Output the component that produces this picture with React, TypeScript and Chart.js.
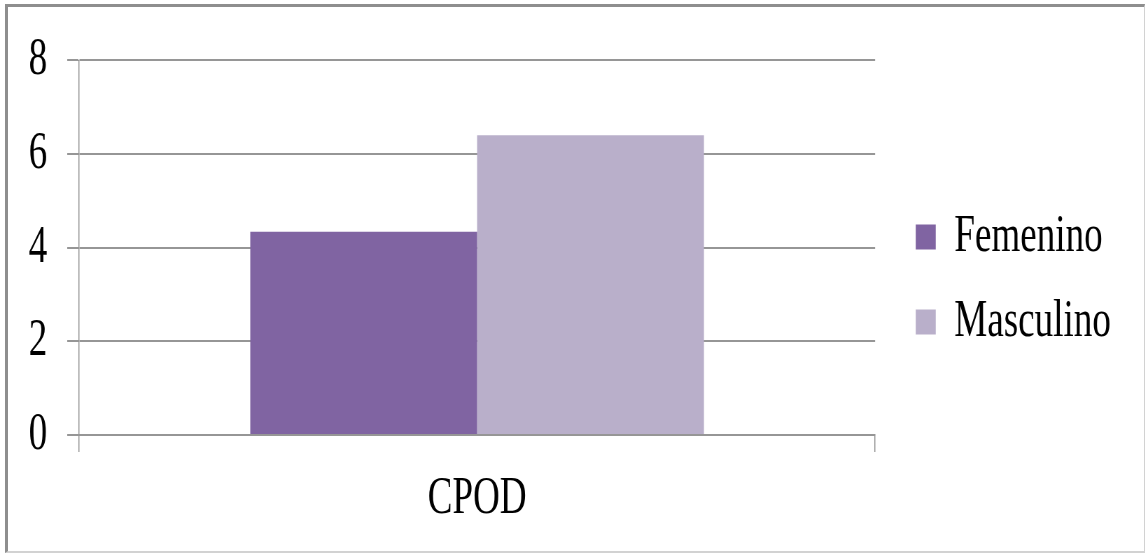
import React, { useEffect, useRef } from 'react';
import { Chart, registerables } from 'chart.js';

Chart.register(...registerables);

// ---- data ----
const categories = ['CPOD'];
const seriesNames = ['Femenino', 'Masculino'];
const femenino = [4.34];
const masculino = [6.4];
const yTicks = [0, 2, 4, 6, 8];
const seriesColors = ['#8064a2', '#b9afca'];

// ---- layout ----
const SX = 0.7; // horizontal squeeze of the narrow serif text
const W = 1636;
const H = 553;
const FONT = { family: "'Liberation Serif', 'Times New Roman', serif", size: 53 };
const GRID = '#969696';

export default function App() {
  const ref = useRef<HTMLCanvasElement>(null);

  useEffect(() => {
    const chart = new Chart(ref.current as HTMLCanvasElement, {
      type: 'bar',
      data: {
        labels: categories,
        datasets: [
          { label: seriesNames[0], data: femenino, backgroundColor: seriesColors[0], yAxisID: 'y' },
          { label: seriesNames[1], data: masculino, backgroundColor: seriesColors[1], yAxisID: 'y' },
        ],
      },
      options: {
        animation: false,
        responsive: true,
        maintainAspectRatio: false,
        devicePixelRatio: 1,
        events: [],
        layout: { padding: { left: 0, top: 6, right: 39, bottom: 0 } },
        datasets: { bar: { categoryPercentage: 0.57, barPercentage: 1 } },
        plugins: {
          tooltip: { enabled: false },
          title: {
            display: true,
            text: ' ',
            font: { size: 1, lineHeight: 1 },
            padding: { top: 0, bottom: 52 },
          },
          legend: {
            position: 'right',
            align: 'center',
            labels: {
              font: FONT,
              color: '#000',
              boxWidth: 28.6,
              boxHeight: 25,
              padding: 32,
            },
          },
        },
        scales: {
          x: {
            type: 'category',
            offset: true,
            grid: {
              display: true,
              offset: true,
              drawOnChartArea: false,
              drawTicks: true,
              tickLength: 17,
              color: GRID,
              lineWidth: 1.5,
            },
            border: { display: true, color: GRID, width: 2 },
            ticks: { font: FONT, color: '#000', padding: 15 },
            afterFit: (s: any) => { s.height = 118; },
          },
          y: {
            type: 'linear',
            position: 'left',
            min: yTicks[0],
            max: yTicks[yTicks.length - 1],
            afterBuildTicks: (s: any) => { s.ticks = yTicks.map((v) => ({ value: v })); },
            grid: { color: GRID, lineWidth: 2, tickLength: 17, drawTicks: true },
            border: { display: true, color: GRID, width: 1.5 },
            ticks: { font: FONT, color: '#000', padding: 28.6 },
            afterFit: (s: any) => { s.width = 113; },
          },
          gap: {
            type: 'linear',
            axis: 'y',
            position: 'right',
            display: false,
            afterFit: (s: any) => { s.width = 26; },
          },
        },
      },
    } as any);
    return () => chart.destroy();
  }, []);

  return (
    <div style={{ position: 'absolute', left: 0, top: 0, width: 1145, height: H, overflow: 'hidden', background: '#fff' }}>
      <div
        style={{
          position: 'absolute',
          left: 0,
          top: 0,
          width: W,
          height: H,
          transform: `scaleX(${SX})`,
          transformOrigin: '0 0',
        }}
      >
        <canvas ref={ref} />
      </div>
      <div
        style={{
          position: 'absolute',
          left: 5,
          top: 4,
          width: 1140,
          height: 549,
          boxSizing: 'border-box',
          borderTop: '3px solid #8e8e8e',
          borderLeft: '3px solid #8e8e8e',
          borderRight: '1px solid #d2d2d2',
          borderBottom: '2px solid #d2d2d2',
          pointerEvents: 'none',
        }}
      />
    </div>
  );
}
